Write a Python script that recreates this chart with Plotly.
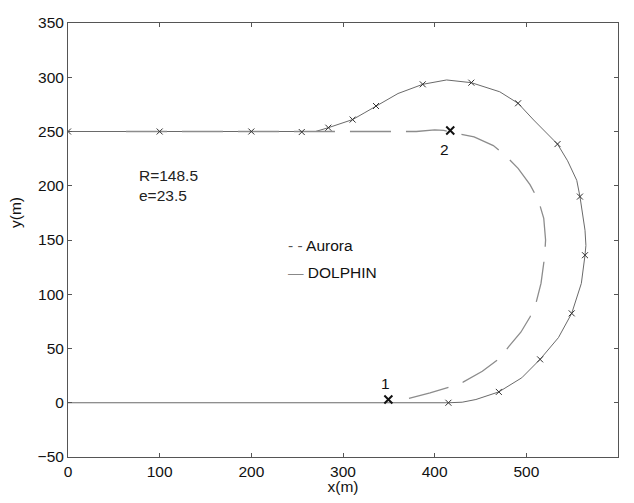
import plotly.graph_objects as go

# DOLPHIN trajectory (solid)
dolphin_x = [0, 100, 200, 230, 255, 270, 284, 297, 310.5, 323, 336, 360, 387, 413, 440, 471, 491, 508, 534, 545, 555, 558.5, 564, 565, 564, 560, 549.5, 535, 515, 495, 470, 445, 430, 415, 300, 200, 100, 0]
dolphin_y = [250, 250, 250, 249.5, 249.5, 250, 253.5, 257, 261, 267, 273.5, 285, 293.5, 297.5, 295, 286.6, 276, 260.6, 238.4, 223, 205, 190, 159, 145, 136, 110, 82.4, 60, 40, 23, 10, 3, 0.5, 0, 0, 0, 0, 0]

# DOLPHIN sample marks
mark_x = [0, 100, 200, 255, 284, 310.5, 336, 387, 440, 491, 534, 558.5, 564, 549.5, 515, 470, 415]
mark_y = [250, 250, 250, 249.5, 253.5, 261, 273.5, 293.5, 295, 276, 238.4, 190, 136, 82.4, 40, 10, 0]

# Aurora trajectory (dashed)
aurora_x = [372, 395, 418, 431, 452, 471, 481, 494, 504, 510, 516, 520, 521, 519, 513, 504, 491, 477, 464, 443, 420, 410, 400, 390, 380, 300, 200, 100, 49]
aurora_y = [4, 9, 15, 19, 29, 41, 52, 65, 79, 90, 110, 135, 150, 170, 187, 201, 216, 228, 237, 245, 249, 251, 251.5, 250.5, 250, 250, 250, 250, 250]

# Key points
key_x = [349.5, 417]
key_y = [3, 251]
key_labels = ["1", "2"]
key_label_y = [18, 233]
key_label_x = [346, 411]

# Parameters text
params_text = "R=148.5<br>e=23.5"

x_ticks = [0, 100, 200, 300, 400, 500, 600]
y_ticks = [-50, 0, 50, 100, 150, 200, 250, 300, 350]

FONT = "Liberation Sans, Arial, Helvetica, sans-serif"
FS = 15.5

fig = go.Figure()
fig.add_trace(go.Scatter(x=dolphin_x, y=dolphin_y, mode="lines",
                         line=dict(color="#6a6a6a", width=1), showlegend=False))
fig.add_trace(go.Scatter(x=aurora_x, y=aurora_y, mode="lines",
                         line=dict(color="#8c8c8c", width=1.3, dash="41px,15px"), showlegend=False))
fig.add_trace(go.Scatter(x=mark_x, y=mark_y, mode="markers",
                         marker=dict(symbol="x-thin", size=6, line=dict(color="#333333", width=1)),
                         showlegend=False))
fig.add_trace(go.Scatter(x=key_x, y=key_y, mode="markers",
                         marker=dict(symbol="x-thin", size=8, line=dict(color="#111111", width=2)),
                         showlegend=False))

for lx, ly, lt in zip(key_label_x, key_label_y, key_labels):
    fig.add_annotation(x=lx, y=ly, text=lt, showarrow=False, xanchor="center", yanchor="middle",
                       font=dict(family=FONT, size=FS, color="#111111"))

fig.add_annotation(x=75, y=200, text=params_text, showarrow=False, align="left",
                   xanchor="left", yanchor="middle",
                   font=dict(family=FONT, size=FS, color="#222222"))

fig.add_annotation(x=0.397, xref="paper", y=0.488, yref="paper",
                   text='<span style="color:#555">- -</span> Aurora', showarrow=False,
                   xanchor="left", yanchor="middle", font=dict(family=FONT, size=FS, color="#111111"))
fig.add_annotation(x=0.397, xref="paper", y=0.425, yref="paper",
                   text='<span style="color:#888">\u2014</span> DOLPHIN', showarrow=False,
                   xanchor="left", yanchor="middle", font=dict(family=FONT, size=FS, color="#111111"))

fig.add_annotation(x=-0.0964, xref="paper", y=0.5645, yref="paper", text="y(m)", textangle=-90,
                   xanchor="center", yanchor="middle",
                   showarrow=False, font=dict(family=FONT, size=FS, color="#111111"))

axis_common = dict(showgrid=False, zeroline=False, showline=True, linecolor="#555555", linewidth=1,
                   mirror="ticks", ticks="inside", ticklen=4, tickcolor="#555555",
                   tickfont=dict(family=FONT, size=FS, color="#111111"))

fig.update_xaxes(range=[0, 600], tickvals=x_ticks, title=dict(text="x(m)", standoff=6,
                 font=dict(family=FONT, size=FS, color="#111111")), automargin=False, **axis_common)
fig.update_yaxes(range=[-50, 350], tickvals=y_ticks, automargin=False, **axis_common)

# the page body has an 8px default margin on every side: size the figure so the page fits the window exactly
fig.update_layout(width=618, height=487, margin=dict(l=60, r=8, t=15, b=38),
                  plot_bgcolor="white", paper_bgcolor="white",
                  font=dict(family=FONT, size=FS, color="#111111"))

fig.write_html("out.html")
